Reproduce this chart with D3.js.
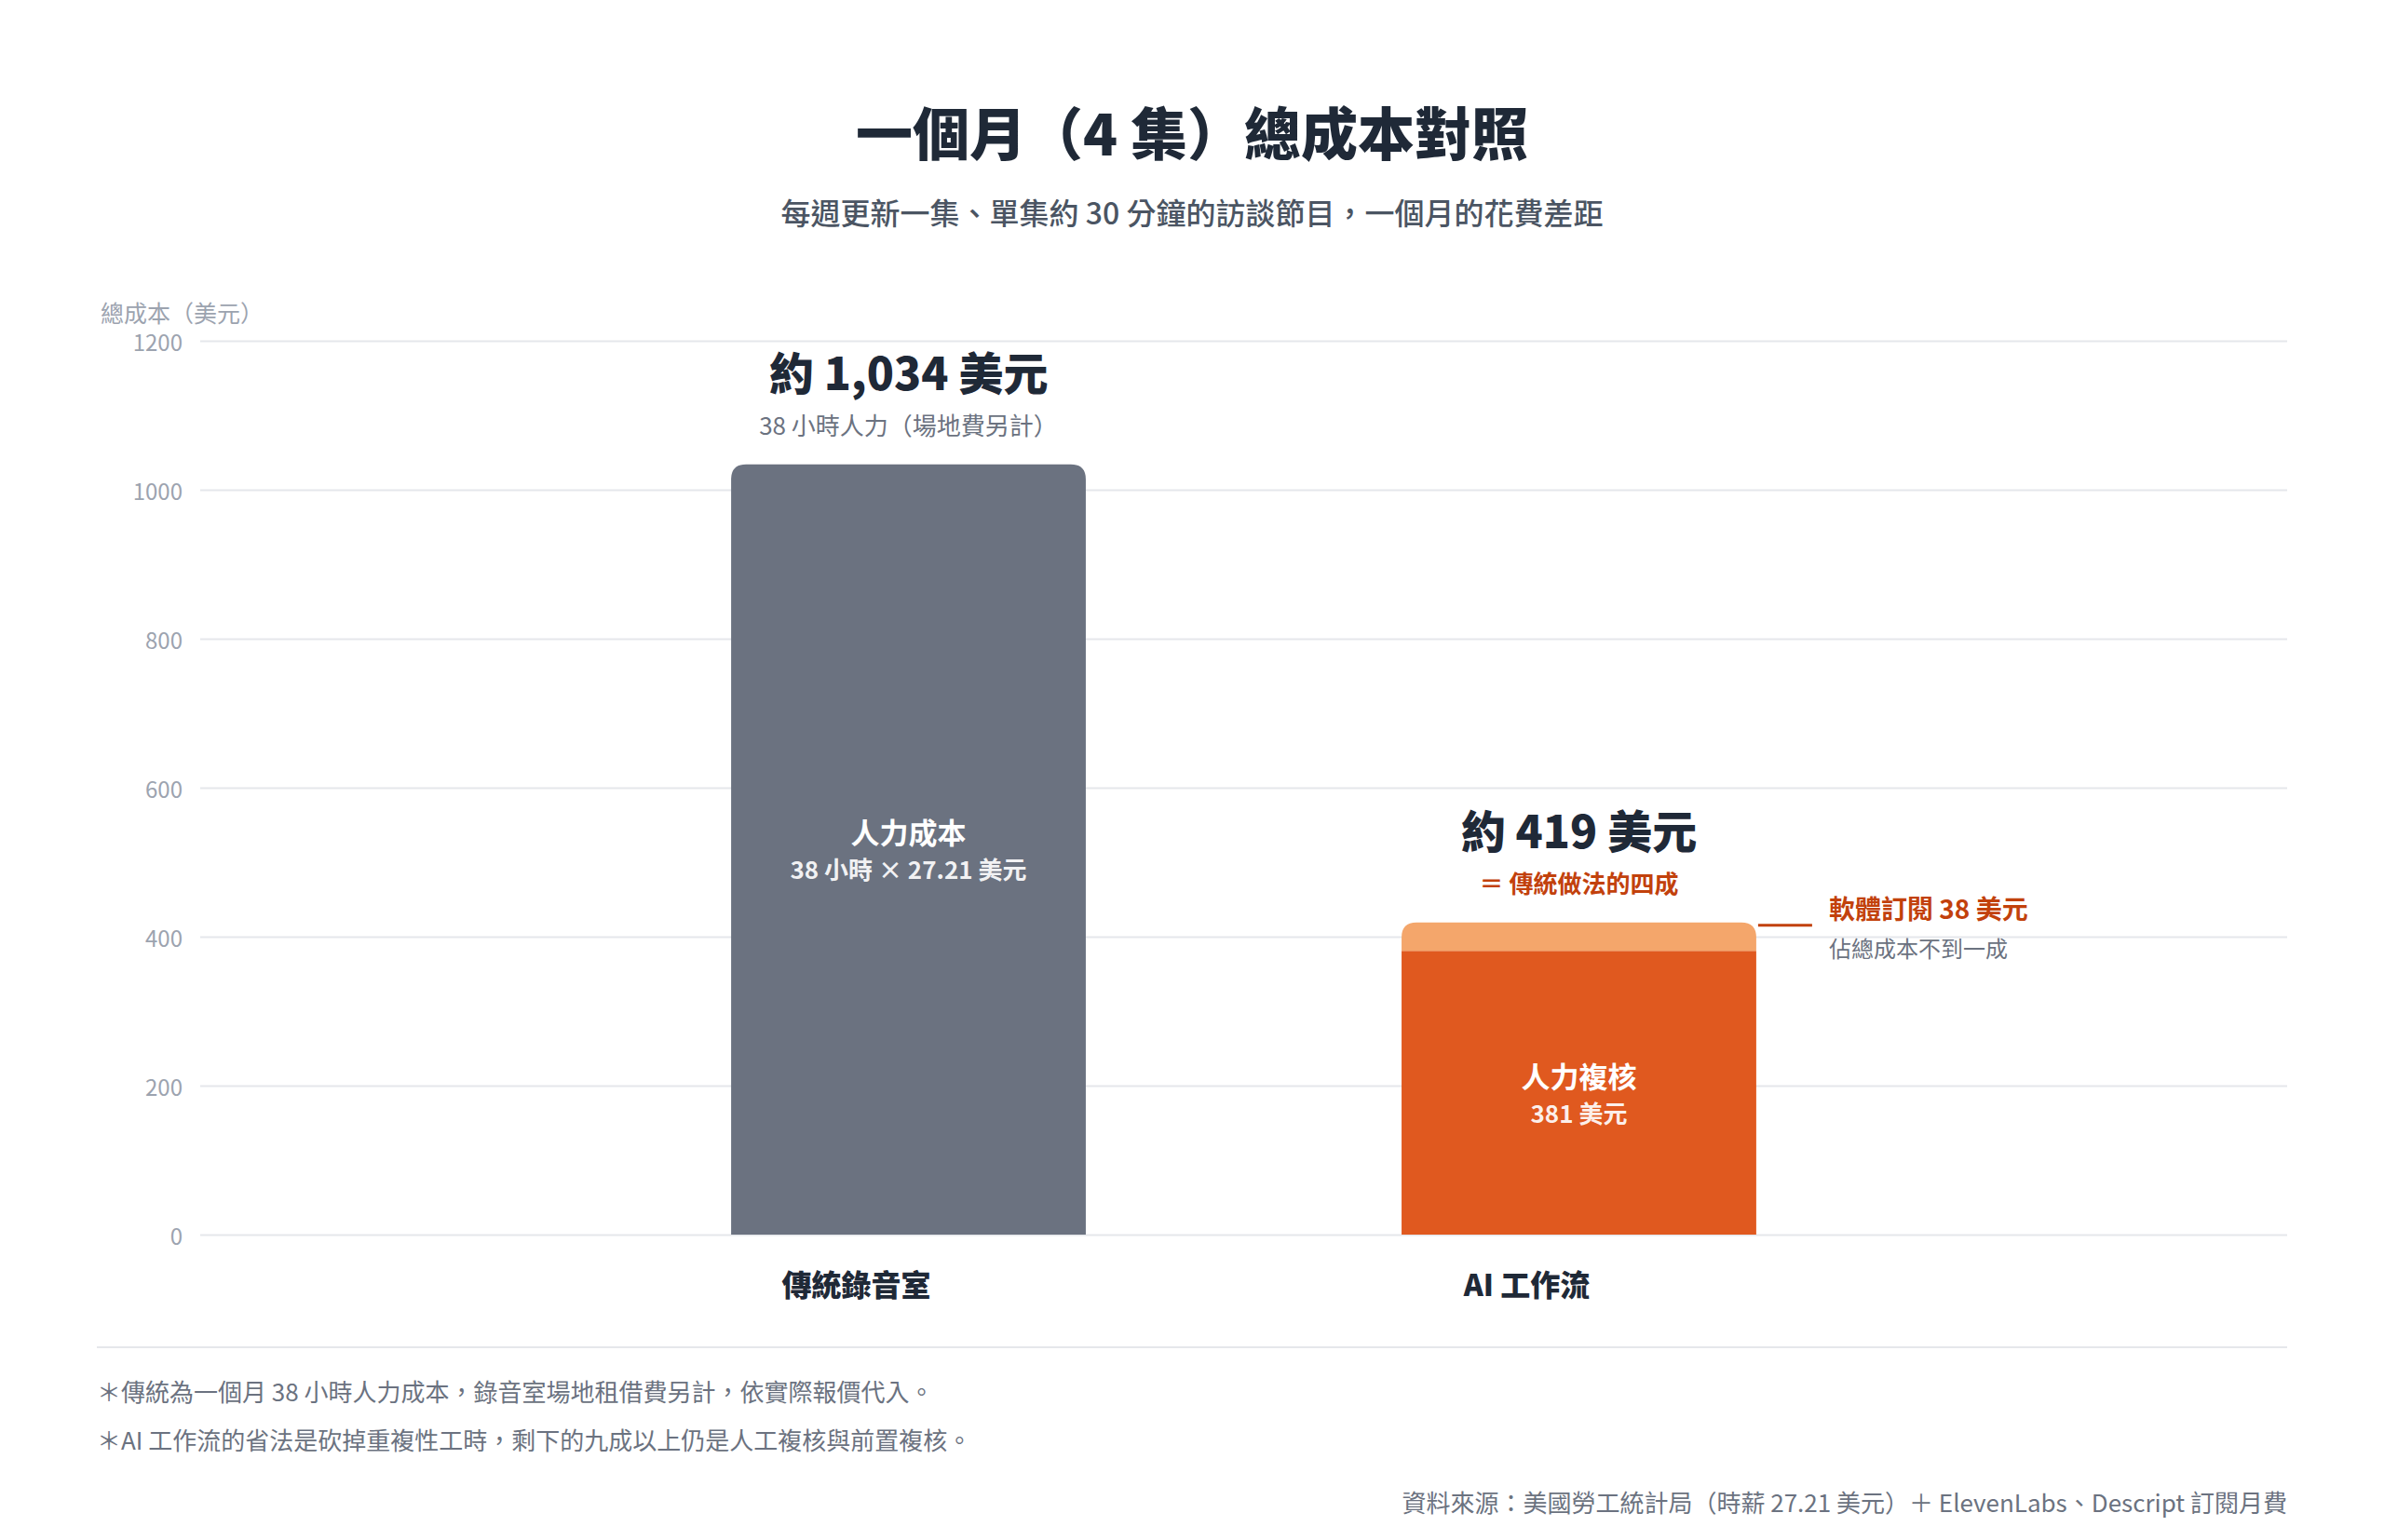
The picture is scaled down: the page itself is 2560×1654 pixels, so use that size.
<!DOCTYPE html>
<html lang="zh-Hant">
<head>
<meta charset="UTF-8">
<title>一個月總成本對照</title>
<script src="https://d3js.org/d3.v7.min.js"></script>
<style>
  body { margin: 0; background: #fff; }
  svg text { font-family: "Noto Sans CJK TC", "Noto Sans", sans-serif; }
  .grid line { stroke: #e5e7eb; stroke-width: 2; }
  .grid path { display: none; }
  .grid text { fill: #9ca3af; font-size: 24px; }
</style>
</head>
<body>
<script>

// data
var categories = ["傳統錄音室", "AI 工作流"];
var laborCost = [1034, 381];
var softwareCost = [0, 38];
var yTicks = [0, 200, 400, 600, 800, 1000, 1200];
var totalLabels = ["約 1,034 美元", "約 419 美元"];
var totalNotes = ["38 小時人力（場地費另計）", "＝ 傳統做法的四成"];
var innerTitles = ["人力成本", "人力複核"];
var innerNotes = ["38 小時 × 27.21 美元", "381 美元"];
var footnotes = [
  "＊傳統為一個月 38 小時人力成本，錄音室場地租借費另計，依實際報價代入。",
  "＊AI 工作流的省法是砍掉重複性工時，剩下的九成以上仍是人工複核與前置複核。"
];

var W = 2560, H = 1654;
var gridLeft = 215, gridRight = 2456;
var plotTop = 366, plotBottom = 1326;

var svg = d3.select("body").append("svg")
    .attr("width", W)
    .attr("height", H);

var data = categories.map(function(c, i) {
  return {name: c, labor: laborCost[i], soft: softwareCost[i], total: laborCost[i] + softwareCost[i], i: i};
});

var x = d3.scaleBand()
    .domain(categories)
    .range([446, 2225])
    .paddingInner(0.471)
    .paddingOuter(0.471);

var y = d3.scaleLinear()
    .domain([0, 1200])
    .range([plotBottom, plotTop]);

// title
svg.append("text")
    .attr("x", W / 2).attr("y", 167)
    .attr("text-anchor", "middle")
    .style("font-size", "61px").style("font-weight", 900)
    .style("fill", "#1f2937")
    .text("一個月（4 集）總成本對照");

svg.append("text")
    .attr("x", W / 2).attr("y", 241)
    .attr("text-anchor", "middle")
    .style("font-size", "32px").style("font-weight", 500)
    .style("fill", "#4b5563")
    .text("每週更新一集、單集約 30 分鐘的訪談節目，一個月的花費差距");

// y axis title
svg.append("text")
    .attr("x", 108).attr("y", 346)
    .style("font-size", "25px")
    .style("fill", "#9ca3af")
    .text("總成本（美元）");

// grid
var grid = svg.append("g")
    .attr("class", "grid")
    .attr("transform", "translate(" + gridLeft + ",0)")
    .call(d3.axisLeft(y).tickValues(yTicks).tickSize(-(gridRight - gridLeft)).tickPadding(19).tickFormat(d3.format("d")));
grid.selectAll("text").attr("dy", "0.42em");

// rounded-top rect
function topRounded(x0, y0, w, h, r) {
  r = Math.min(r, h);
  return "M" + x0 + "," + (y0 + h) +
    "V" + (y0 + r) +
    "Q" + x0 + "," + y0 + " " + (x0 + r) + "," + y0 +
    "H" + (x0 + w - r) +
    "Q" + (x0 + w) + "," + y0 + " " + (x0 + w) + "," + (y0 + r) +
    "V" + (y0 + h) + "Z";
}

var bw = x.bandwidth();
var laborColors = ["#6b7280", "#e0591f"];

var bars = svg.selectAll(".bar")
    .data(data)
    .enter().append("g")
    .attr("class", "bar");

// labor segment
bars.append("path")
    .attr("d", function(d) {
      var r = d.soft > 0 ? 0 : 16;
      return topRounded(x(d.name), y(d.labor), bw, y(0) - y(d.labor), r);
    })
    .attr("fill", function(d) { return laborColors[d.i]; });

// software segment
bars.filter(function(d) { return d.soft > 0; })
    .append("path")
    .attr("d", function(d) {
      return topRounded(x(d.name), y(d.total), bw, y(d.labor) - y(d.total), 16);
    })
    .attr("fill", "#f4a66b");

// inner labels
bars.append("text")
    .attr("x", function(d) { return x(d.name) + bw / 2; })
    .attr("y", function(d) { return (y(d.labor) + y(0)) / 2 - 6; })
    .attr("text-anchor", "middle")
    .style("font-size", "31px").style("font-weight", 700)
    .style("fill", "#fff")
    .text(function(d) { return innerTitles[d.i]; });

bars.append("text")
    .attr("x", function(d) { return x(d.name) + bw / 2; })
    .attr("y", function(d) { return (y(d.labor) + y(0)) / 2 + 32; })
    .attr("text-anchor", "middle")
    .style("font-size", "26px").style("font-weight", 700)
    .style("fill", "#fff").style("fill-opacity", 0.92)
    .text(function(d) { return innerNotes[d.i]; });

// total labels
bars.append("text")
    .attr("x", function(d) { return x(d.name) + bw / 2; })
    .attr("y", function(d) { return y(d.total) - 80; })
    .attr("text-anchor", "middle")
    .style("font-size", "48px").style("font-weight", 900)
    .style("fill", "#1f2937")
    .text(function(d) { return totalLabels[d.i]; });

bars.append("text")
    .attr("x", function(d) { return x(d.name) + bw / 2; })
    .attr("y", function(d) { return y(d.total) - 32; })
    .attr("text-anchor", "middle")
    .style("font-size", "26px")
    .style("font-weight", function(d) { return d.i === 0 ? 400 : 700; })
    .style("fill", function(d) { return d.i === 0 ? "#6b7280" : "#c2410c"; })
    .text(function(d) { return totalNotes[d.i]; });

// category labels
svg.selectAll(".cat")
    .data(categories)
    .enter().append("text")
    .attr("class", "cat")
    .attr("x", function(d) { return x(d) + bw / 2 - 56; })
    .attr("y", 1392)
    .attr("text-anchor", "middle")
    .style("font-size", "32px").style("font-weight", 900)
    .style("fill", "#1f2937")
    .text(function(d) { return d; });

// software annotation
var ai = data[1];
var annX = x(ai.name) + bw;
var annY = y(ai.total) + 3;
svg.append("line")
    .attr("x1", annX + 2).attr("x2", annX + 60)
    .attr("y1", annY).attr("y2", annY)
    .attr("stroke", "#c2410c").attr("stroke-width", 3);

svg.append("text")
    .attr("x", annX + 78).attr("y", annY - 7)
    .style("font-size", "28px").style("font-weight", 700)
    .style("fill", "#c2410c")
    .text("軟體訂閱 " + ai.soft + " 美元");

svg.append("text")
    .attr("x", annX + 78).attr("y", annY + 34)
    .style("font-size", "24px")
    .style("fill", "#6b7280")
    .text("佔總成本不到一成");

// separator
svg.append("line")
    .attr("x1", 104).attr("x2", gridRight)
    .attr("y1", 1447).attr("y2", 1447)
    .attr("stroke", "#e5e7eb").attr("stroke-width", 2);

svg.selectAll(".foot")
    .data(footnotes)
    .enter().append("text")
    .attr("class", "foot")
    .attr("x", 104)
    .attr("y", function(d, i) { return 1505 + i * 52; })
    .style("font-size", "26px")
    .style("fill", "#6b7280")
    .text(function(d) { return d; });

svg.append("text")
    .attr("x", gridRight).attr("y", 1624)
    .attr("text-anchor", "end")
    .style("font-size", "26px")
    .style("fill", "#6b7280")
    .text("資料來源：美國勞工統計局（時薪 27.21 美元）＋ ElevenLabs、Descript 訂閱月費");

</script>
</body>
</html>
